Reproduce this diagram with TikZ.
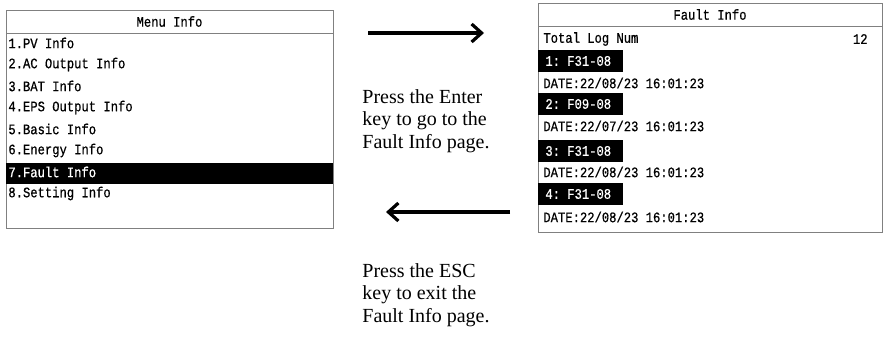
\documentclass[tikz,border=0pt]{standalone}
\usepackage{fontspec}
\setmainfont{Liberation Serif}
\newfontfamily\lcdfont[FakeStretch=0.84, FakeBold=0.6]{Liberation Mono}
\usetikzlibrary{arrows.meta, positioning, calc}

\begin{document}
\begin{tikzpicture}[x=1pt, y=-1pt, thick,
    >={Straight Barb[length=10pt, width=18pt]},
    frame/.style={draw=black!50, line width=0.9pt},
    lcd/.style={inner sep=0pt, font=\lcdfont\fontsize{14.5}{17}\selectfont},
    tag/.style={lcd, fill=black, text=white, anchor=west, text width=71pt,
        inner xsep=7pt, minimum height=22pt, align=left},
    note/.style={anchor=west, align=left, inner sep=0pt,
        font=\fontsize{20}{22.5}\selectfont},
    key/.style={->, line width=3.2pt}]
    \useasboundingbox (0,0) rectangle (883,350);

    % Menu screen
    \draw[frame] (6,10) rectangle (333,228);
    \draw[frame] (6,33) -- (333,33);
    \fill (6,163) rectangle (333,184);
    \node[lcd] (menuhead) at (169.5,21.5) {Menu Info};
    \foreach \i/\t/\c in {1/1.PV Info/black, 2/2.AC Output Info/black,
        3/3.BAT Info/black, 4/4.EPS Output Info/black, 5/5.Basic Info/black,
        6/6.Energy Info/black, 7/7.Fault Info/white, 8/8.Setting Info/black}
        \node[lcd, anchor=west, text=\c] (m\i) at (8,{21.5+21.5*\i}) {\t};

    % Fault screen
    \draw[frame] (538,3) rectangle (882,232);
    \draw[frame] (538,26) -- (882,26);
    \node[lcd] (faulthead) at (710,14.5) {Fault Info};
    \node[lcd, anchor=west] (total) at (543,39) {Total Log Num};
    \node[lcd, anchor=east] (count) at (868,39) {12};
    \foreach \i/\code/\mon/\ya/\yb in {1/F31/08/61/83, 2/F09/07/104/126,
        3/F31/08/151/172, 4/F31/08/194/217} {
        \node[tag] (f\i) at (538,\ya) {\i: \code-08};
        \node[lcd, anchor=west] (d\i) at (543,\yb) {DATE:22/\mon/23 16:01:23};
    }

    % Keys
    \coordinate (enterA) at (368,33);
    \coordinate (enterB) at (484,33);
    \coordinate (escA) at (510,212);
    \coordinate (escB) at (386,212);
    \draw[key] (enterA) -- (enterB);
    \draw[key] (escA) -- (escB);
    \node[note] (enter) at (362,121) {Press the Enter\\key to go to the\\Fault Info page.};
    \node[note] (esc) at (362,295) {Press the ESC\\key to exit the\\Fault Info page.};
\end{tikzpicture}
\end{document}
